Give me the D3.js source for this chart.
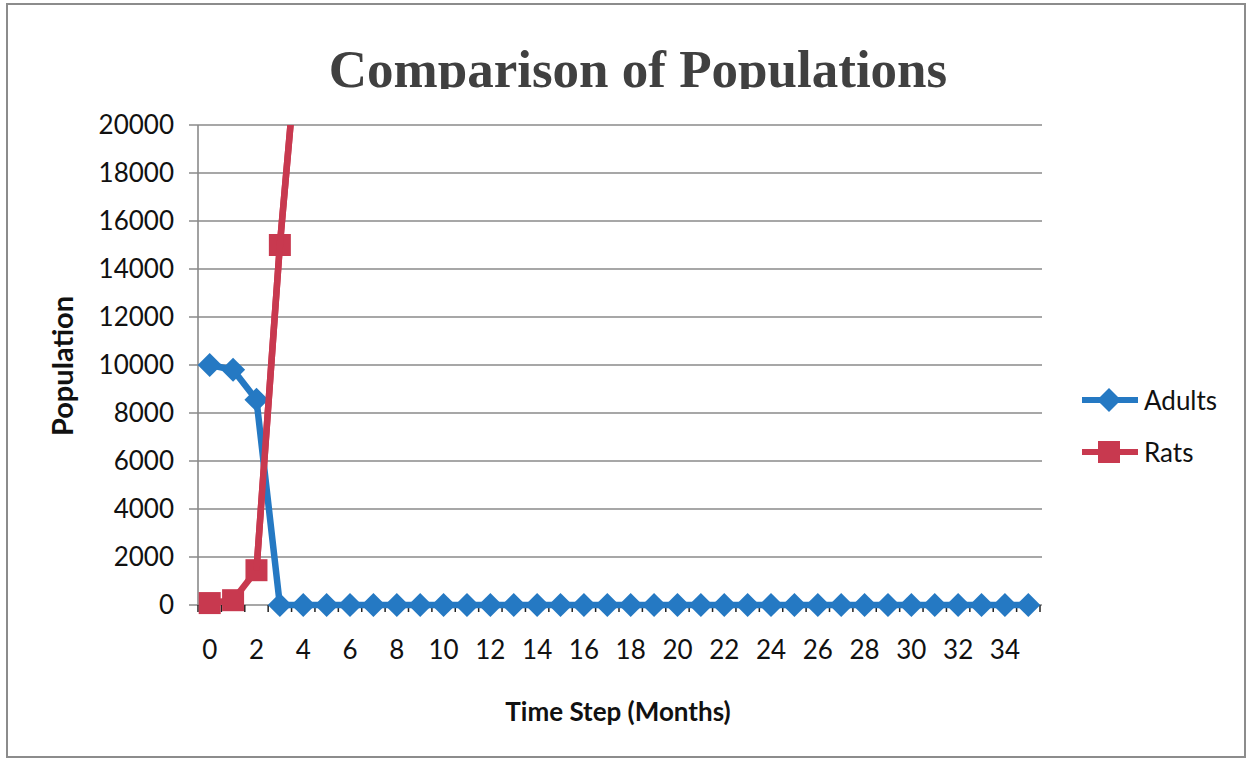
<!DOCTYPE html>
<html>
<head>
<meta charset="utf-8">
<script src="https://cdn.jsdelivr.net/npm/d3@7"></script>
<style>
  html, body { margin: 0; padding: 0; background: #fff; }
  svg { display: block; }
</style>
</head>
<body>
<script>
// ---- Data ----
const categories = d3.range(0, 36).map(String); // time steps 0..35
const adults = [10000, 9800, 8550, 0, 0, 0, 0, 0, 0, 0, 0, 0, 0, 0, 0, 0, 0, 0,
                0, 0, 0, 0, 0, 0, 0, 0, 0, 0, 0, 0, 0, 0, 0, 0, 0, 0];
const rats = [80, 200, 1450, 15000, 26000];
const yTicks = [0, 2000, 4000, 6000, 8000, 10000, 12000, 14000, 16000, 18000, 20000];
const xTickLabels = categories.filter((d, i) => i % 2 === 0);
const seriesNames = ["Adults", "Rats"];

const W = 1253, H = 759;
const margin = { left: 198, right: 1040, top: 125, bottom: 605 };
const blue = "#2579c3", red = "#c8394f", grid = "#8a8a8a";
const sans = "Lato, 'Open Sans', sans-serif";

const svg = d3.select("body").append("svg").attr("width", W).attr("height", H);

// outer border
svg.append("rect").attr("x", 7).attr("y", 4).attr("width", 1238).attr("height", 753)
  .attr("fill", "#fff").attr("stroke", "#8c8c8c").attr("stroke-width", 2);

const x = d3.scaleBand().domain(categories).range([margin.left, margin.right]);
const y = d3.scaleLinear().domain([0, 20000]).range([margin.bottom, margin.top]);
const cx = d => x(d) + x.bandwidth() / 2;

// gridlines
svg.append("g").selectAll("line").data(yTicks).join("line")
  .attr("x1", margin.left - 9).attr("x2", margin.right + 2)
  .attr("y1", d => y(d)).attr("y2", d => y(d))
  .attr("stroke", grid).attr("stroke-width", 1.6);

// y axis line
svg.append("line").attr("x1", margin.left).attr("x2", margin.left)
  .attr("y1", margin.top).attr("y2", margin.bottom)
  .attr("stroke", grid).attr("stroke-width", 1.6);

// y axis labels
const yAxis = d3.axisLeft(y).tickValues(yTicks).tickFormat(d3.format("d")).tickSize(0).tickPadding(24);
const gy = svg.append("g").attr("transform", `translate(${margin.left},0)`).call(yAxis);
gy.select(".domain").remove();
gy.selectAll("text").attr("font-family", sans).attr("font-size", 26).attr("fill", "#111");

// x axis tick marks at category boundaries
const bounds = d3.range(0, categories.length + 1).map(i => margin.left + i * x.step());
svg.append("g").selectAll("line").data(bounds).join("line")
  .attr("x1", d => d).attr("x2", d => d)
  .attr("y1", margin.bottom).attr("y2", margin.bottom + 7)
  .attr("stroke", "#222").attr("stroke-width", 1.5);

// x axis labels
const xAxis = d3.axisBottom(x).tickValues(xTickLabels).tickSize(0).tickPadding(36);
const gx = svg.append("g").attr("transform", `translate(0,${margin.bottom})`).call(xAxis);
gx.select(".domain").remove();
gx.selectAll("text").attr("font-family", sans).attr("font-size", 26).attr("fill", "#111");

// clip for plot area
svg.append("clipPath").attr("id", "plotclip").append("rect")
  .attr("x", margin.left - 20).attr("y", margin.top)
  .attr("width", margin.right - margin.left + 40).attr("height", margin.bottom - margin.top + 30);

const plot = svg.append("g").attr("clip-path", "url(#plotclip)");
const line = d3.line().x((d, i) => cx(categories[i])).y(d => y(d));

const diamond = d3.symbol().type(d3.symbolSquare).size(290);

// Rats series
plot.append("path").datum(rats).attr("d", line)
  .attr("fill", "none").attr("stroke", red).attr("stroke-width", 6.5).attr("stroke-linejoin", "round");
plot.append("g").selectAll("rect").data(rats).join("rect")
  .attr("x", (d, i) => cx(categories[i]) - 11).attr("y", d => y(d) - 11)
  .attr("width", 22).attr("height", 22).attr("fill", red);

// Adults series
plot.append("path").datum(adults).attr("d", line)
  .attr("fill", "none").attr("stroke", blue).attr("stroke-width", 6.5).attr("stroke-linejoin", "round");
plot.append("g").selectAll("path").data(adults).join("path")
  .attr("d", diamond)
  .attr("transform", (d, i) => `translate(${cx(categories[i])},${y(d)}) rotate(45)`)
  .attr("fill", blue);

// Rats line on top between steps 2-4 (red crosses over blue)
plot.append("path").datum(rats.slice(2)).attr("d", d3.line().x((d, i) => cx(categories[i + 2])).y(d => y(d)))
  .attr("fill", "none").attr("stroke", red).attr("stroke-width", 6.5);

// Title (clipped at bottom like the reference)
svg.append("clipPath").attr("id", "titleclip").append("rect")
  .attr("x", 0).attr("y", 0).attr("width", W).attr("height", 89);
svg.append("text").attr("x", 638).attr("y", 87).attr("text-anchor", "middle")
  .attr("clip-path", "url(#titleclip)")
  .attr("font-family", "'Liberation Serif', 'Times New Roman', serif").attr("font-weight", "bold")
  .attr("font-size", 53).attr("fill", "#404040").text("Comparison of Populations");

// Axis titles
svg.append("text").attr("transform", "translate(73,366) rotate(-90)").attr("text-anchor", "middle")
  .attr("font-family", sans).attr("font-weight", "bold")
  .attr("font-size", 29).attr("fill", "#111").text("Population");
svg.append("text").attr("x", 618).attr("y", 721).attr("text-anchor", "middle")
  .attr("font-family", sans).attr("font-weight", "bold")
  .attr("font-size", 26).attr("fill", "#111").text("Time Step (Months)");

// Legend
const legend = svg.append("g");
const legendRows = [
  { name: seriesNames[0], color: blue, shape: "diamond", y: 400 },
  { name: seriesNames[1], color: red, shape: "square", y: 452 }
];
legendRows.forEach(r => {
  legend.append("line").attr("x1", 1082).attr("x2", 1138).attr("y1", r.y).attr("y2", r.y)
    .attr("stroke", r.color).attr("stroke-width", 6);
  if (r.shape === "diamond") {
    legend.append("path").attr("d", diamond).attr("transform", `translate(1109,${r.y}) rotate(45)`).attr("fill", r.color);
  } else {
    legend.append("rect").attr("x", 1098).attr("y", r.y - 11).attr("width", 22).attr("height", 22).attr("fill", r.color);
  }
  legend.append("text").attr("x", 1144).attr("y", r.y + 10)
    .attr("font-family", sans).attr("font-size", 26)
    .attr("fill", "#111").text(r.name);
});
</script>
</body>
</html>
